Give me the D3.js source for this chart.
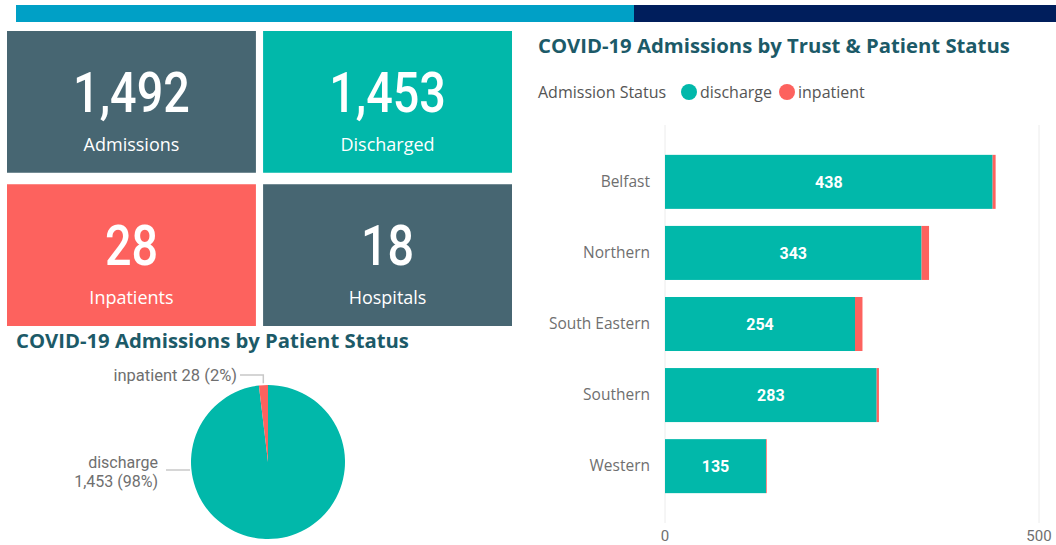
<!DOCTYPE html>
<html>
<head>
<meta charset="utf-8">
<script src="https://cdn.jsdelivr.net/npm/d3@7"></script>
<style>
  html, body { margin: 0; padding: 0; background: #fff; }
  svg { display: block; }
  .num { font-family: Roboto, "DejaVu Sans", sans-serif; }
  .ui { font-family: "Open Sans", "Noto Sans", sans-serif; }
</style>
</head>
<body>
<div id="chart"></div>
<script>
// card values
const cardLabels = ['Admissions', 'Discharged', 'Inpatients', 'Hospitals']
const cardValues = [1492, 1453, 28, 18]
const cardColors = ['#476672', '#01b8aa', '#fd625e', '#476672']

// pie
const statusKeys = ['discharge', 'inpatient']
const statusTotals = [1453, 28]

// bars by trust
const trusts = ['Belfast', 'Northern', 'South Eastern', 'Southern', 'Western']
const discharge = [438, 343, 254, 283, 135]
const inpatient = [4, 10, 10, 3, 1]
const xTicks = [0, 500]

const teal = '#01b8aa', red = '#fd625e', titleColor = '#1c5a68', gray = '#6f6f6f'
const fmt = d3.format(',')

const svg = d3.select('#chart').append('svg').attr('width', 1056).attr('height', 545)

// header strip
svg.append('rect').attr('x', 16).attr('y', 5).attr('width', 618).attr('height', 17).attr('fill', '#00a0c6')
svg.append('rect').attr('x', 634).attr('y', 5).attr('width', 422).attr('height', 17).attr('fill', '#001e5c')

// cards
const cx = d3.scaleBand().domain([0, 1]).range([7, 512]).paddingInner(0.028)
const cy = d3.scaleBand().domain([0, 1]).range([31, 326]).paddingInner(0.075)
const cards = svg.append('g').selectAll('g').data(cardValues).enter().append('g')
  .attr('transform', (d, i) => `translate(${cx(i % 2)},${cy(Math.floor(i / 2))})`)
cards.append('rect').attr('width', cx.bandwidth()).attr('height', cy.bandwidth())
  .attr('fill', (d, i) => cardColors[i])
// DIN-like condensed numbers
cards.append('text').attr('class', 'num')
  .attr('transform', `translate(${cx.bandwidth() / 2},81) scale(0.85,1)`)
  .attr('text-anchor', 'middle').attr('fill', '#fff').attr('font-size', 55).attr('font-weight', 500)
  .text(d => fmt(d))
cards.append('text').attr('class', 'ui')
  .attr('x', cx.bandwidth() / 2).attr('y', 120)
  .attr('text-anchor', 'middle').attr('fill', '#fff').attr('font-size', 18)
  .text((d, i) => cardLabels[i])

// pie chart
svg.append('text').attr('class', 'ui').attr('x', 16).attr('y', 348)
  .attr('font-size', 20.3).attr('font-weight', 700).attr('fill', titleColor)
  .text('COVID-19 Admissions by Patient Status')

const pieG = svg.append('g').attr('transform', 'translate(268,462)')
const pie = d3.pie().sort(null)
const arcs = pie(statusTotals)
const arc = d3.arc().innerRadius(0).outerRadius(77)
const pieColor = d3.scaleOrdinal().domain(statusKeys).range([teal, red])
pieG.selectAll('path').data(arcs).enter().append('path')
  .attr('d', arc).attr('fill', (d, i) => pieColor(statusKeys[i]))

const total = d3.sum(statusTotals)
const pct = v => Math.round(v / total * 100) + '%'
// leader lines
const lblArc = d3.arc().innerRadius(79).outerRadius(79)
const pIn = lblArc.centroid(arcs[1])
pieG.append('polyline').attr('fill', 'none').attr('stroke', '#c8c8c8').attr('stroke-width', 1.5)
  .attr('points', [[pIn[0], pIn[1]], [pIn[0], -87], [-28, -87]].join(' '))
pieG.append('text').attr('class', 'num').attr('x', -31).attr('y', -81)
  .attr('text-anchor', 'end').attr('font-size', 16.5).attr('fill', gray)
  .text(`${statusKeys[1]} ${fmt(statusTotals[1])} (${pct(statusTotals[1])})`)
pieG.append('polyline').attr('fill', 'none').attr('stroke', '#c8c8c8').attr('stroke-width', 1.5)
  .attr('points', [[-78, 8], [-102, 8]].join(' '))
const dl = pieG.append('text').attr('class', 'num').attr('text-anchor', 'end')
  .attr('font-size', 16).attr('fill', gray)
dl.append('tspan').attr('x', -110).attr('y', 6).text(statusKeys[0])
dl.append('tspan').attr('x', -110).attr('y', 25).text(`${fmt(statusTotals[0])} (${pct(statusTotals[0])})`)

// bar chart
svg.append('text').attr('class', 'ui').attr('x', 538).attr('y', 53)
  .attr('font-size', 20.3).attr('font-weight', 700).attr('fill', titleColor)
  .text('COVID-19 Admissions by Trust & Patient Status')

const legend = svg.append('g').attr('class', 'ui').attr('font-size', 16)
legend.append('text').attr('x', 538).attr('y', 98).attr('fill', '#555').text('Admission Status')
const legX = [689, 787]
statusKeys.forEach((k, i) => {
  legend.append('circle').attr('cx', legX[i]).attr('cy', 92).attr('r', 8).attr('fill', pieColor(k))
  legend.append('text').attr('x', legX[i] + 11).attr('y', 98).attr('fill', '#555').text(k)
})

const x = d3.scaleLinear().domain([0, 500]).range([665, 1039])
const y = d3.scaleBand().domain(trusts).range([125, 523]).paddingInner(0.24).paddingOuter(0.42)

svg.append('g').selectAll('line').data(xTicks).enter().append('line')
  .attr('x1', d => x(d)).attr('x2', d => x(d)).attr('y1', 125).attr('y2', 523)
  .attr('stroke', '#ececec').attr('stroke-width', 1)
svg.append('g').selectAll('text').data(xTicks).enter().append('text').attr('class', 'num')
  .attr('x', d => x(d)).attr('y', 541).attr('text-anchor', 'middle')
  .attr('font-size', 15).attr('fill', gray).text(d => d)

const rows = trusts.map((t, i) => ({ t, discharge: discharge[i], inpatient: inpatient[i] }))
const stack = d3.stack().keys(statusKeys)(rows)
svg.append('g').selectAll('g').data(stack).enter().append('g')
  .attr('fill', d => pieColor(d.key))
  .selectAll('rect').data(d => d).enter().append('rect')
  .attr('x', d => x(d[0])).attr('width', d => x(d[1]) - x(d[0]))
  .attr('y', d => y(d.data.t)).attr('height', y.bandwidth())

svg.append('g').selectAll('text').data(rows).enter().append('text').attr('class', 'num')
  .attr('x', d => (x(0) + x(d.discharge)) / 2).attr('y', d => y(d.t) + y.bandwidth() / 2 + 6)
  .attr('text-anchor', 'middle').attr('font-size', 16).attr('font-weight', 700).attr('fill', '#fff')
  .text(d => d.discharge)

svg.append('g').selectAll('text').data(trusts).enter().append('text').attr('class', 'ui')
  .attr('x', 650).attr('y', d => y(d) + y.bandwidth() / 2 + 5)
  .attr('text-anchor', 'end').attr('font-size', 15.5).attr('fill', gray)
  .text(d => d)
</script>
</body>
</html>
